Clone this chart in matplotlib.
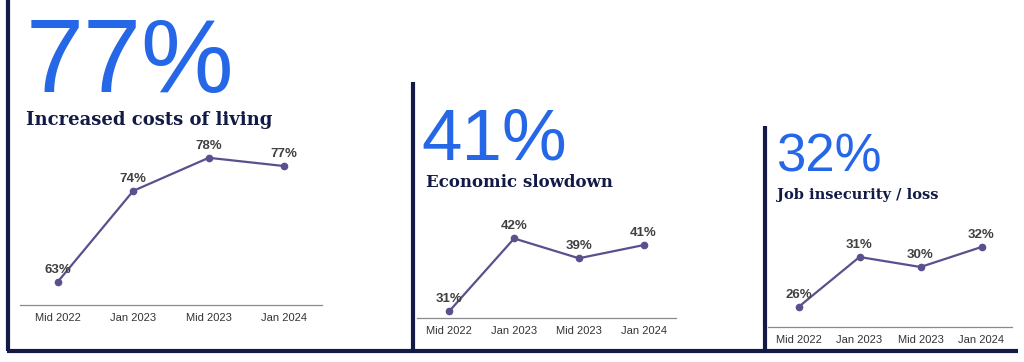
import matplotlib.pyplot as plt
from matplotlib.lines import Line2D

periods = ["Mid 2022", "Jan 2023", "Mid 2023", "Jan 2024"]
headlines = ["77%", "41%", "32%"]
titles = ["Increased costs of living", "Economic slowdown", "Job insecurity / loss"]
costs_of_living = [63, 74, 78, 77]
economic_slowdown = [31, 42, 39, 41]
job_insecurity = [26, 31, 30, 32]

W, H = 1024, 362
BLUE = "#2567e6"
NAVY = "#121a45"
LINE = "#5c4f8e"
GRAY = "#404040"


def fx(px):
    return px / W


def fy(py):
    return 1 - py / H


# per panel layout in pixels: axis left, right, bottom (axis line), px per unit, y floor
panels = [
    dict(values=costs_of_living, left=20, right=322, base=305, scale=8.27, ymin=60.2,
         big=(26, 92, 75), title=(26, 125, 13), frame=(8, 0)),
    dict(values=economic_slowdown, left=417, right=676, base=318, scale=6.6, ymin=29.95,
         big=(421, 159, 52.5), title=(426, 187, 12), frame=(413, 82)),
    dict(values=job_insecurity, left=768, right=1012, base=327, scale=10.0, ymin=24.0,
         big=(776, 172, 38), title=(777, 199, 10.5), frame=(765, 126)),
]

fig = plt.figure(figsize=(W / 100, H / 100), dpi=100)

for p, big, title in zip(panels, headlines, titles):
    vals = p["values"]
    span = 22 if p["scale"] < 9 else 14
    top = p["base"] - span * p["scale"]
    ax = fig.add_axes([fx(p["left"]), fy(p["base"]), fx(p["right"] - p["left"]),
                       (p["base"] - top) / H])
    x = range(len(periods))
    ax.plot(x, vals, color=LINE, lw=1.6, marker="o", ms=4.5, clip_on=False)
    for xi, v in zip(x, vals):
        ax.annotate(f"{v}%", (xi, v), xytext=(0, 4.5), textcoords="offset points",
                    ha="center", va="bottom", fontsize=9.5, fontweight="bold",
                    color=GRAY, family="Liberation Sans")
    ax.set_xlim(-0.5, 3.5)
    ax.set_ylim(p["ymin"], p["ymin"] + span)
    ax.set_xticks(list(x))
    ax.set_xticklabels(periods, fontsize=8, color="#333333", family="Liberation Sans")
    ax.tick_params(axis="x", length=0, pad=6)
    ax.set_yticks([])
    for s in ["top", "left", "right"]:
        ax.spines[s].set_visible(False)
    ax.spines["bottom"].set_color("#8a8a8a")
    ax.spines["bottom"].set_linewidth(0.9)
    ax.patch.set_alpha(0)

    bx, by, bs = p["big"]
    fig.text(fx(bx), fy(by), big, fontsize=bs, color=BLUE, family="Liberation Sans",
             ha="left", va="baseline")
    tx, ty, ts = p["title"]
    fig.text(fx(tx), fy(ty), title, fontsize=ts, color=NAVY, family="DejaVu Serif",
             fontweight="bold", ha="left", va="baseline")
    lx, ly = p["frame"]
    fig.add_artist(Line2D([fx(lx), fx(lx)], [fy(ly), fy(351)], color=NAVY, lw=3,
                          transform=fig.transFigure, solid_capstyle="butt"))

fig.add_artist(Line2D([fx(6.5), fx(1018)], [fy(350.5), fy(350.5)], color=NAVY, lw=3,
                      transform=fig.transFigure, solid_capstyle="butt"))

fig.savefig("out.png", dpi=100)
